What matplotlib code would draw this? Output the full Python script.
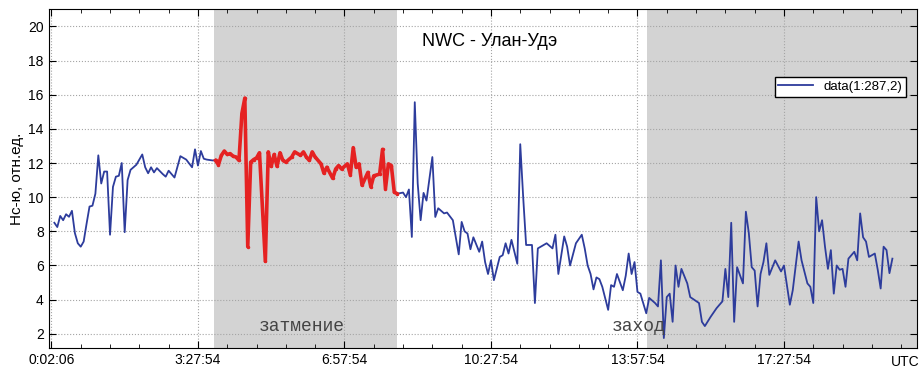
import matplotlib
matplotlib.use('Agg')
from matplotlib import pyplot as plt
from matplotlib.ticker import MultipleLocator, FixedLocator
from matplotlib.transforms import blended_transform_factory

# NWC signal at Ulan-Ude, one sample every 252 s (sample number, value)
morning_n = [1, 2, 3, 4, 5, 6, 7, 8, 9, 10, 11, 12, 13, 14, 15, 16, 17, 18, 19, 20,
             21, 22, 23, 24, 25, 26, 27, 29, 30, 31, 32, 33, 34, 35, 36, 38, 39, 40,
             42, 44, 45, 46, 48, 49, 50, 51, 52, 53, 55]
morning_v = [8.5, 8.25, 8.9, 8.65, 9.0, 8.85, 9.2, 7.9, 7.3, 7.1, 7.4, 8.45, 9.45, 9.5,
             10.2, 12.45, 10.8, 11.5, 11.5, 7.8, 10.6, 11.2, 11.25, 12.0, 7.95, 11.0,
             11.6, 11.9, 12.2, 12.5, 11.75, 11.4, 11.75, 11.45, 11.7, 11.35, 11.2,
             11.55, 11.15, 12.4, 12.3, 12.2, 11.75, 12.8, 11.85, 12.7, 12.25, 12.2, 12.15]

eclipse_n = [56, 57, 58, 59, 60, 61, 62, 63, 64, 65, 66, 67, 68, 69, 70, 71, 73, 74,
             75, 76, 77, 78, 79, 80, 82, 83, 85, 86, 87, 88, 89, 90, 92, 93, 94, 96,
             97, 98, 99, 101, 102, 103, 104, 105, 106, 108, 109, 110, 112, 113, 114,
             115, 116, 117, 118]
eclipse_v = [12.15, 11.9, 12.45, 12.7, 12.5, 12.55, 12.4, 12.35, 12.15, 14.9, 15.8,
             7.1, 12.05, 12.2, 12.3, 12.6, 6.25, 12.65, 11.8, 12.5, 11.8, 12.6, 12.15,
             12.05, 12.35, 12.65, 12.45, 12.65, 12.35, 12.15, 12.65, 12.35, 11.95,
             11.4, 11.75, 11.1, 11.65, 11.85, 11.65, 11.95, 11.3, 12.9, 11.75, 11.95,
             10.7, 11.45, 10.6, 11.25, 11.35, 12.8, 10.5, 11.95, 11.85, 10.3, 10.2]

evening_n = [120, 121, 122, 123, 124, 125, 126, 127, 128, 130, 131, 132, 134, 135, 137,
             139, 140, 141, 142, 143, 144, 146, 147, 148, 149, 150, 151, 153, 154, 155,
             156, 157, 159, 160, 161, 162, 164, 165, 166, 168, 169, 171, 172, 173, 175,
             176, 177, 179, 181, 182, 183, 184, 185, 186, 187, 188, 190, 191, 192, 193,
             195, 196, 197, 198, 199, 200, 201, 203, 204, 206, 207, 208, 209, 210, 211,
             212, 213, 214, 215, 217, 218, 221, 222, 223, 225, 227, 229, 230, 231, 232,
             233, 234, 236, 237, 238, 239, 240, 241, 242, 243, 244, 245, 247, 249, 250,
             252, 253, 255, 256, 258, 259, 260, 261, 262, 263, 264, 265, 266, 267, 268,
             269, 270, 271, 272, 274, 275, 276, 277, 278, 279, 281, 282, 283, 284, 285,
             286, 287]
evening_v = [10.27, 10.0, 10.45, 7.67, 15.56, 10.8, 8.65, 10.25, 9.8, 12.35, 8.84, 9.35,
             9.05, 9.1, 8.65, 6.65, 8.55, 8.0, 7.87, 6.95, 7.65, 6.8, 7.4, 6.2, 5.5, 6.3,
             5.14, 6.5, 6.6, 7.3, 6.7, 7.5, 6.1, 13.1, 10.0, 7.2, 7.2, 3.8, 7.0, 7.2, 7.3,
             7.0, 7.8, 5.5, 7.7, 7.1, 6.0, 7.3, 7.8, 7.0, 6.0, 5.5, 4.6, 5.3, 5.2, 4.75,
             3.4, 4.85, 4.75, 5.5, 4.55, 5.4, 6.7, 5.5, 6.2, 4.45, 4.35, 3.2, 4.1, 3.8,
             3.6, 6.3, 1.75, 4.15, 4.35, 2.7, 6.0, 4.75, 5.8, 4.95, 4.15, 3.8, 2.7, 2.45,
             3.0, 3.5, 3.9, 5.8, 4.15, 8.5, 2.7, 5.9, 4.95, 9.15, 7.9, 5.9, 5.7, 3.6, 5.5,
             6.2, 7.3, 5.45, 6.3, 5.65, 6.0, 3.7, 4.55, 7.4, 6.3, 4.95, 4.75, 3.8, 10.0,
             8.0, 8.65, 7.1, 5.8, 6.9, 4.35, 6.0, 5.75, 5.8, 4.75, 6.4, 6.8, 6.3, 9.05,
             7.65, 7.4, 6.5, 6.7, 5.75, 4.65, 7.1, 6.9, 5.55, 6.4]

# shaded intervals in sample numbers
eclipse_start, eclipse_end = 55.5, 117.8
sunset_start = 203.3

tick_pos = [0, 50, 100, 150, 200, 250]
tick_labels = ['0:02:06', '3:27:54', '6:57:54', '10:27:54', '13:57:54', '17:27:54']

plt.rcParams['font.family'] = ['Liberation Sans', 'DejaVu Sans']

fig = plt.figure(figsize=(9.22, 3.71), dpi=100)
ax = fig.add_axes([48.5 / 922, 1 - 348.3 / 371, (917 - 48.5) / 922, (348.3 - 9.3) / 371])

xmin, xmax = -1, 295.4
ax.axvspan(eclipse_start, eclipse_end, color='#d3d3d3', lw=0, zorder=0)
ax.axvspan(sunset_start, xmax + 5, color='#d3d3d3', lw=0, zorder=0)

all_n = morning_n + eclipse_n + evening_n
all_v = morning_v + eclipse_v + evening_v
ax.plot(all_n, all_v, color='#2d3c9c', lw=1.3, label='data(1:287,2)', zorder=3)
ax.plot(eclipse_n, eclipse_v, color='#e52222', lw=2.6, marker='.', ms=3, zorder=4)

ax.set_xlim(xmin, xmax)
ax.set_ylim(1.15, 21)
ax.xaxis.set_major_locator(FixedLocator(tick_pos))
ax.set_xticklabels(tick_labels)
ax.xaxis.set_minor_locator(MultipleLocator(10))
ax.set_yticks(range(2, 21, 2))
ax.tick_params(which='both', direction='in', top=True, right=True, labelsize=10)
ax.tick_params(which='major', length=5)
ax.tick_params(which='minor', length=3)
ax.grid(True, which='major', ls=':', color='#a5a5a5', lw=0.8)
for sp in ax.spines.values():
    sp.set_linewidth(0.8)

ax.set_ylabel('Нс-ю, отн.ед.', fontsize=11, labelpad=3)

trans = blended_transform_factory(ax.transData, ax.transAxes)
ax.text(291.3, -0.02, 'UTC', transform=trans, ha='center', va='top', fontsize=10)

ax.text(0.508, 0.904, 'NWC - Улан-Удэ', transform=ax.transAxes, ha='center',
        va='center', fontsize=13)
ax.text(85.5, 2.4, 'затмение', family='Liberation Mono', fontsize=13,
        color='#444444', ha='center', va='center')
ax.text(200.5, 2.4, 'заход', family='Liberation Mono', fontsize=13,
        color='#444444', ha='center', va='center')

ax.legend(loc='upper right', bbox_to_anchor=(0.995, 0.821), fontsize=9.5,
          fancybox=False, edgecolor='black', framealpha=1, handlelength=2.6,
          borderpad=0.3)

fig.savefig('out.png', dpi=100)
